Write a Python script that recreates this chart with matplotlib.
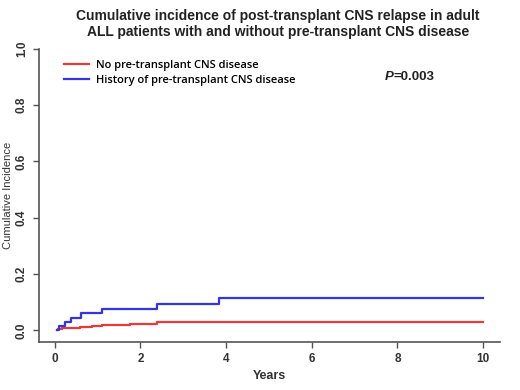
import matplotlib
matplotlib.use("Agg")
from matplotlib import pyplot as plt

# Step times (years) and cumulative incidence after each step
no_cns_t = [0.05, 0.08, 0.16, 0.35, 0.58, 0.86, 1.1, 1.75, 2.38, 10.0]
no_cns_y = [0.0, 0.004, 0.007, 0.010, 0.013, 0.016, 0.020, 0.023, 0.029, 0.029]
cns_t = [0.05, 0.10, 0.23, 0.37, 0.62, 1.10, 2.38, 3.83, 10.0]
cns_y = [0.0, 0.014, 0.029, 0.045, 0.060, 0.077, 0.093, 0.114, 0.114]

labels = ['No pre-transplant CNS disease', 'History of pre-transplant CNS disease']
xticks = [0, 2, 4, 6, 8, 10]
yticks = [0.0, 0.2, 0.4, 0.6, 0.8, 1.0]

plt.rcParams['font.family'] = ['Liberation Sans', 'DejaVu Sans']

fig = plt.figure(figsize=(5.2, 3.9), dpi=100)
ax = fig.add_axes([0.075, 0.124, 0.887, 0.751])

ax.step(no_cns_t, no_cns_y, where='post', color='#e83a3a', lw=1.6, label=labels[0])
ax.step(cns_t, cns_y, where='post', color='#3434e0', lw=1.6, label=labels[1])

ax.set_xlim(-0.37, 10.4)
ax.set_ylim(-0.04, 1.0)
ax.spines['top'].set_visible(False)
ax.spines['right'].set_visible(False)
ax.spines['left'].set_color('#555555')
ax.spines['bottom'].set_color('#555555')
ax.spines['left'].set_linewidth(1.2)
ax.spines['bottom'].set_linewidth(1.2)

ax.set_xticks(xticks)
ax.set_yticks(yticks)
ax.set_xticklabels([str(v) for v in xticks], fontsize=8.5, fontweight='bold', color='#333333')
ax.set_yticklabels([f'{v:.1f}' for v in yticks], fontsize=8.5, fontweight='bold',
                   color='#333333', rotation=90, va='center')
ax.tick_params(axis='both', length=4, width=1, color='#555555')
ax.tick_params(axis='x', pad=4)
ax.tick_params(axis='y', pad=4)

ax.set_xlabel('Years', fontsize=9, fontweight='bold', color='#333333', labelpad=4)
ax.set_ylabel('Cumulative Incidence', fontsize=8, color='#333333', va='center')
ax.yaxis.set_label_coords(-0.067, 0.5)

fig.text(0.535, 0.976, 'Cumulative incidence of post-transplant CNS relapse in adult\n'
         'ALL patients with and without pre-transplant CNS disease',
         ha='center', va='top', fontsize=10, fontweight='bold', color='#222222',
         linespacing=1.17)

leg = ax.legend(loc='upper left', bbox_to_anchor=(0.033, 0.995), frameon=False,
                handlelength=2.2, handletextpad=0.7, labelspacing=0.3,
                prop={'family': ['Open Sans', 'DejaVu Sans'], 'size': 8, 'weight': 'semibold'})

p_text = ax.text(0.749, 0.905, 'P', transform=ax.transAxes, fontsize=9.5,
                 fontweight='bold', fontstyle='italic', ha='left', va='center',
                 color='#222222')
ax.annotate('=0.003', xy=(1, 0.5), xycoords=p_text, fontsize=9.5,
            fontweight='bold', ha='left', va='center', color='#222222')

fig.savefig('out.png', dpi=100)
